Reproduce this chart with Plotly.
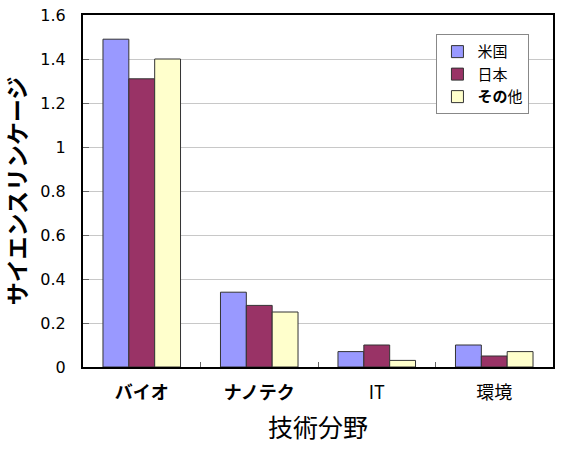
import plotly.graph_objects as go

categories = ["バイオ", "ナノテク", "IT", "環境"]
tick_labels = ["<b>バイオ</b>", "<b>ナノテク</b>", "IT", "環境"]
series_names = ["米国", "日本", "その他"]
legend_labels = ["米国", "日本", "<b>その</b>他"]
us = [1.49, 0.34, 0.07, 0.10]
japan = [1.31, 0.28, 0.10, 0.05]
other = [1.40, 0.25, 0.03, 0.07]
colors = ["#9999FF", "#993366", "#FFFFCC"]
y_ticks = [0, 0.2, 0.4, 0.6, 0.8, 1.0, 1.2, 1.4, 1.6]
y_tick_text = ["0", "0.2", "0.4", "0.6", "0.8", "1", "1.2", "1.4", "1.6"]

fig = go.Figure()
for name, vals, col in zip(legend_labels, [us, japan, other], colors):
    fig.add_trace(go.Bar(
        x=categories, y=vals, name=name,
        marker=dict(color=col, line=dict(color="#333333", width=1)),
    ))

fig.update_layout(
    width=561, height=454,
    margin=dict(l=83, r=6, t=8, b=87),
    paper_bgcolor="white", plot_bgcolor="white",
    barmode="group", bargap=0.34, bargroupgap=0,
    font=dict(family="DejaVu Sans, Noto Sans CJK JP", size=15, color="black"),
    legend=dict(
        x=0.752, y=0.945, xanchor="left", yanchor="top",
        bgcolor="white", bordercolor="#888888", borderwidth=1,
        font=dict(family="Noto Sans CJK JP", size=15),
        tracegroupgap=0, itemwidth=30,
    ),
    xaxis=dict(
        tickmode="array", tickvals=categories, ticktext=tick_labels,
        tickfont=dict(family="Noto Sans CJK JP", size=18),
        showline=True, linecolor="black", linewidth=2, mirror=True,
        ticks="inside", tickson="boundaries", ticklen=5, tickcolor="#666666",
        showgrid=False, ticklabelstandoff=8,
        title=dict(text="技術分野", font=dict(family="Noto Sans CJK JP", size=25), standoff=17),
    ),
    yaxis=dict(
        range=[0, 1.60001], tickmode="array", tickvals=y_ticks, ticktext=y_tick_text,
        tickfont=dict(family="DejaVu Sans", size=16),
        showline=True, linecolor="black", linewidth=2, mirror=True,
        ticks="inside", ticklen=6, tickcolor="#666666",
        showgrid=True, gridcolor="#c8c8c8", gridwidth=1,
        ticklabelstandoff=12, zeroline=False, ticklabeloverflow="allow",
    ),
    annotations=[dict(
        text="<b>サイエンスリンケージ</b>", textangle=-90,
        xref="paper", yref="paper", x=-0.142, y=0.5,
        xanchor="center", yanchor="middle", showarrow=False,
        font=dict(family="Noto Sans CJK JP", size=23, color="black"),
    )],
)

fig.write_html("out.html")
